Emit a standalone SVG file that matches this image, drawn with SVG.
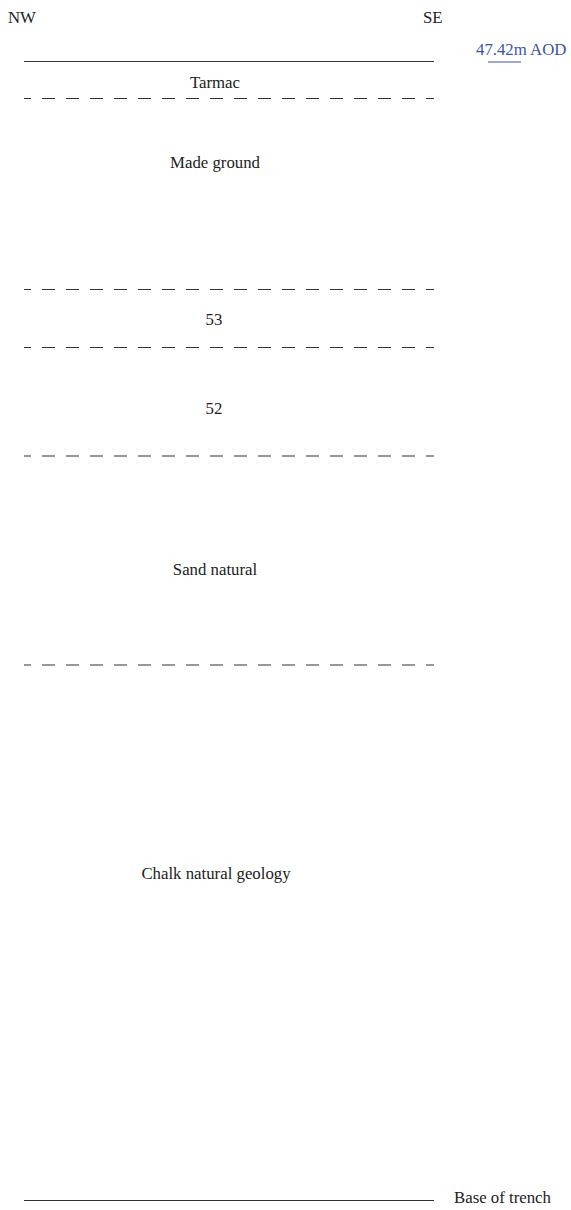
<svg xmlns="http://www.w3.org/2000/svg" width="571" height="1210" viewBox="0 0 571 1210">
<style>
text{font-family:"Liberation Serif","Times New Roman",serif;font-size:16.8px;fill:#222}
.c{text-anchor:middle}
.solid{stroke:#333;stroke-width:1.2;fill:none}
.dash{stroke:#333;stroke-width:1.2;fill:none;stroke-dasharray:13 11;stroke-dashoffset:6}
.aod{fill:#3a55a8}
</style>
<rect width="571" height="1210" fill="#fff"/>
<g id="orientation">
<text x="8" y="23">NW</text>
<text x="423" y="23">SE</text>
</g>
<g id="level">
<text class="aod" x="476" y="55">47.42m AOD</text>
<line x1="488" y1="62" x2="521" y2="62" stroke="#3a55a8" stroke-width="1.2"/>
</g>
<g id="connectors">
<line class="solid" x1="24" y1="61.5" x2="434" y2="61.5"/>
<line class="dash" x1="24" y1="98.5" x2="434" y2="98.5"/>
<line class="dash" x1="24" y1="289.5" x2="434" y2="289.5"/>
<line class="dash" x1="24" y1="347.5" x2="434" y2="347.5"/>
<line class="dash" x1="24" y1="456" x2="434" y2="456"/>
<line class="dash" x1="24" y1="665" x2="434" y2="665"/>
<line class="solid" x1="24" y1="1200.5" x2="434" y2="1200.5"/>
</g>
<g id="tarmac"><text class="c" x="215" y="88">Tarmac</text></g>
<g id="made-ground"><text class="c" x="215" y="168">Made ground</text></g>
<g id="layer-53"><text class="c" x="214" y="325">53</text></g>
<g id="layer-52"><text class="c" x="214" y="414">52</text></g>
<g id="sand-natural"><text class="c" x="215" y="575">Sand natural</text></g>
<g id="chalk"><text class="c" x="216" y="879">Chalk natural geology</text></g>
<g id="base"><text x="454" y="1203">Base of trench</text></g>
</svg>
